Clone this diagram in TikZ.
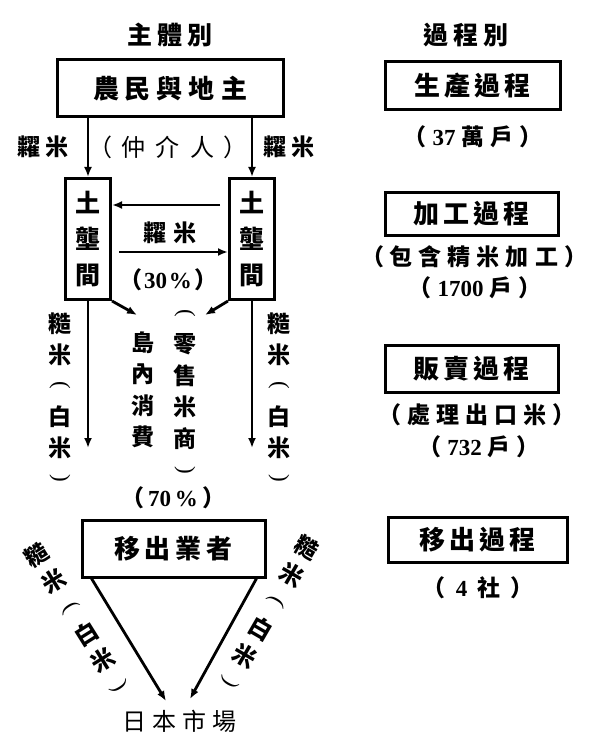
\documentclass[tikz,border=0pt]{standalone}
\usepackage{fontspec}
\setmainfont{Noto Sans CJK TC}
\newfontfamily\dig{Liberation Serif}
\usetikzlibrary{arrows.meta}
\makeatletter
\newcommand\lsp[2]{\def\lsp@g{}\@tfor\lsp@c:=#2\do{\lsp@g\lsp@c\def\lsp@g{\hspace{#1}}}}
\makeatother
\newcommand\lpar{{\mdseries\dig (}}
\newcommand\rpar{{\mdseries\dig )}}
% name, first position, rotation, spacing, list of char/rotation
\newcommand\mkcol[5]{%
 \begin{scope}[shift={#2}, rotate=#3]
 \foreach \ch/\rt [count=\i] in {#5} {
   \pgfmathsetmacro\off{(\i-1)*#4}
   \node[vch, rotate=\rt] (#1-\i) at (0,\off) {\ch};
 }
 \end{scope}}
\begin{document}
\begin{tikzpicture}[x=1pt,y=-1pt]
\tikzset{
 bx/.style={draw, line width=3pt, inner sep=0pt, anchor=center, align=center},
 ar/.style={line width=2.8pt, -{Latex[length=10pt,width=8pt]}},
 big/.style={inner sep=0pt, font=\fontsize{25}{25}\selectfont\bfseries},
 mid/.style={inner sep=0pt, font=\fontsize{23}{23}\selectfont\bfseries},
 thin/.style={inner sep=0pt, font=\fontsize{24}{24}\selectfont},
 vch/.style={inner sep=0pt, transform shape, font=\fontsize{23}{23}\selectfont\bfseries},
}
\useasboundingbox (0,0) rectangle (596,738);

% headings
\node[big] (h1) at (170,35) {\lsp{5pt}{主體別}};
\node[big] (h2) at (466,35) {\lsp{5pt}{過程別}};

% left column boxes
\node[bx, minimum width=226pt, minimum height=57pt, font=\fontsize{26}{26}\selectfont\bfseries] (top) at (170,88.5) {\lsp{6pt}{農民與地主}};
\node[bx, minimum width=45pt, minimum height=121pt, font=\fontsize{25}{36}\selectfont\bfseries] (L) at (88,239) {土\\壟\\間};
\node[bx, minimum width=45pt, minimum height=121pt, font=\fontsize{25}{36}\selectfont\bfseries] (R) at (252,239) {土\\壟\\間};
\node[bx, minimum width=183pt, minimum height=57pt, font=\fontsize{26}{26}\selectfont\bfseries] (ex) at (173.5,548.5) {\lsp{5pt}{移出業者}};
\node[thin] (mkt) at (179,721) {\lsp{6pt}{日本市場}};

% labels
\node[mid] (lab1) at (43,147) {\lsp{6pt}{糶米}};
\node[thin] (lab2) at (168,147) {\lsp{10pt}{（仲介人）}};
\node[mid] (lab3) at (289,147) {\lsp{6pt}{糶米}};
\node[mid] (lab4) at (170,233) {\lsp{8pt}{糶米}};
\node[mid] (lab5) at (168,280) {\lsp{2pt}{（{{\dig\bfseries 30}}{{\dig\bfseries\%}}）}};
\node[mid] (lab10) at (173,498) {\lsp{4pt}{（{{\dig\bfseries 70}}{{\dig\bfseries\%}}）}};

\mkcol{c6}{(60,323.5)}{0}{31}{糙/0,米/0,\lpar/-90,白/0,米/0,\rpar/-90}
\mkcol{c7}{(279,323.5)}{0}{31}{糙/0,米/0,\lpar/-90,白/0,米/0,\rpar/-90}
\mkcol{c8}{(143,343)}{0}{31.3}{島/0,內/0,消/0,費/0}
\mkcol{c9}{(185,313)}{0}{31.4}{\lpar/-90,零/0,售/0,米/0,商/0,\rpar/-90}
\mkcol{c11}{(37,555)}{32}{31}{糙/0,米/0,\lpar/-90,白/0,米/0,\rpar/-90}
\mkcol{c12}{(307,548)}{-30}{31}{糙/0,米/0,\lpar/-90,白/0,米/0,\rpar/-90}

% right column
\node[bx, minimum width=175pt, minimum height=48pt, font=\fontsize{26}{26}\selectfont\bfseries] (p1) at (472.5,86) {\lsp{4pt}{生產過程}};
\node[mid] (p1a) at (473,137) {\lsp{6pt}{（{{\dig\bfseries 37}}萬戶）}};
\node[bx, minimum width=173pt, minimum height=43pt, font=\fontsize{26}{26}\selectfont\bfseries] (p2) at (471.5,213.5) {\lsp{4pt}{加工過程}};
\node[mid] (p2a) at (474,257) {\lsp{6pt}{（包含精米加工）}};
\node[mid] (p2b) at (475,288) {\lsp{6pt}{（{{\dig\bfseries 1700}}戶）}};
\node[bx, minimum width=173pt, minimum height=47pt, font=\fontsize{26}{26}\selectfont\bfseries] (p3) at (471.5,368.5) {\lsp{4pt}{販賣過程}};
\node[mid] (p3a) at (477,415) {\lsp{6pt}{（處理出口米）}};
\node[mid] (p3b) at (479,447) {\lsp{6pt}{（{{\dig\bfseries 732}}戶）}};
\node[bx, minimum width=179pt, minimum height=45pt, font=\fontsize{26}{26}\selectfont\bfseries] (p4) at (477.5,539.5) {\lsp{4pt}{移出過程}};
\node[mid] (p4a) at (478,588) {\lsp{10pt}{（{{\dig\bfseries 4}}社）}};

% connectors
\draw[ar] (top.south -| L.north) -- (L.north);
\draw[ar] (top.south -| R.north) -- (R.north);
\draw[ar, shorten <=8pt] ([yshift=34pt]R.west) -- ([yshift=34pt]L.east);
\draw[ar, shorten <=7pt] ([yshift=-13pt]L.east) -- ([yshift=-13pt]R.west);
\coordinate (ldn) at (137,315);
\coordinate (rdn) at (205,315);
\draw[ar] (L.south east) -- (ldn);
\draw[ar] (R.south west) -- (rdn);
\coordinate (lb) at (88,448);
\coordinate (rb) at (252,448);
\draw[ar] (L.south) -- (lb);
\draw[ar] (R.south) -- (rb);
\coordinate (mL) at (166,701);
\coordinate (mR) at (190,699);
\draw[ar] ([xshift=11pt]ex.south west) -- (mL);
\draw[ar] ([xshift=-10pt]ex.south east) -- (mR);
\end{tikzpicture}
\end{document}
